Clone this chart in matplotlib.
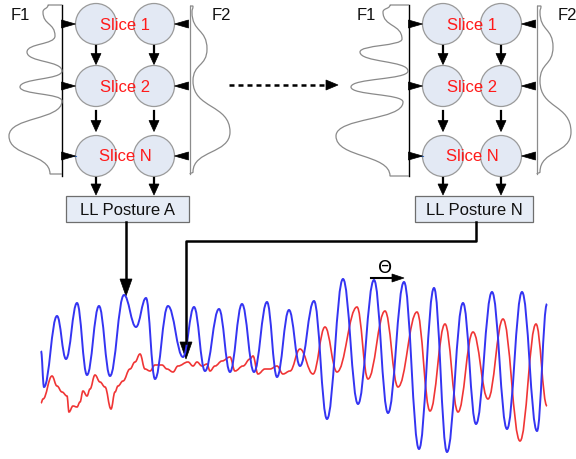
import matplotlib
matplotlib.use('Agg')
import matplotlib.pyplot as plt
from matplotlib.path import Path
from matplotlib.patches import PathPatch, Circle, Polygon, Rectangle

# --- diagram layout (pixel coords, y down) ---
line_left = [62, 409]
line_right = [190, 537]
col1_x = [96, 443]
col2_x = [154, 501]
row_y = [25, 87, 157]
slice_labels = ['Slice 1', 'Slice 2', 'Slice N']
box_x = [66, 415]
box_w = [123, 118]
box_labels = ['LL Posture A', 'LL Posture N']
f1_pos = [(20, 16), (366, 16)]
f2_pos = [(221, 16), (567, 16)]

# F1 / F2 distribution curves (turning points)
f1_curves = [
    ([62, 48, 43, 55, 27, 62, 20, 62, 9, 50, 62],
     [6, 6, 13, 37, 53, 72, 88, 102, 137, 175, 175]),
    ([409, 390, 383, 402, 360, 408, 351, 403, 336, 390, 409],
     [6, 6, 13, 40, 53, 72, 88, 103, 137, 177, 177]),
]
f2_curves = [
    ([190, 193, 192, 207, 193, 230, 193, 190],
     [7, 7, 13, 50, 82, 133, 173, 175]),
    ([537, 541, 540, 553, 540, 571, 540, 537],
     [7, 7, 13, 48, 82, 133, 173, 175]),
]

# --- signals (turning points) ---
blue_x = [41, 44, 57, 66, 77, 87, 99, 110, 124, 136, 146, 155, 168, 183, 194, 205,
          219, 230, 242, 254, 267, 277, 289, 300, 314, 327, 343, 358, 374, 388,
          404, 419, 434, 447, 463, 476, 492, 507, 522, 537, 547]
blue_y = [352, 388, 317, 360, 304, 376, 307, 377, 296, 328, 299, 380, 307, 358, 308, 372,
          310, 373, 305, 373, 303, 378, 311, 367, 302, 420, 280, 405, 281, 414,
          283, 450, 289, 453, 304, 425, 293, 430, 293, 432, 305]

red_x = [41, 43, 52, 57, 62, 67, 69, 73, 77, 80, 83, 87, 90, 95, 100, 105, 111, 115, 118,
         123, 130, 135, 140, 145, 150, 155, 162, 167, 173, 178, 188, 193, 197, 202, 207,
         210, 215, 222, 230, 235, 243, 250, 253, 258, 265, 270, 277, 283, 290, 300,
         313, 325, 337, 357, 368, 385, 398, 417, 430, 445, 458, 473, 488, 503, 520,
         536, 547]
red_y = [404, 400, 377, 387, 393, 397, 413, 407, 408, 403, 392, 397, 390, 376, 383, 388,
         410, 393, 387, 382, 370, 363, 355, 370, 372, 366, 366, 370, 373, 367, 363, 367,
         363, 367, 365, 372, 367, 362, 358, 372, 367, 360, 357, 375, 370, 370, 367,
         375, 372, 350, 375, 328, 373, 308, 380, 312, 388, 313, 412, 325, 413, 333,
         400, 320, 442, 325, 407]


def smooth_path(xs, ys, vertical=False, k=0.4):
    verts = [(xs[0], ys[0])]
    codes = [Path.MOVETO]
    for x0, y0, x1, y1 in zip(xs[:-1], ys[:-1], xs[1:], ys[1:]):
        if vertical:
            d = (y1 - y0) * k
            verts += [(x0, y0 + d), (x1, y1 - d), (x1, y1)]
        else:
            d = (x1 - x0) * k
            verts += [(x0 + d, y0), (x1 - d, y1), (x1, y1)]
        codes += [Path.CURVE4] * 3
    return Path(verts, codes)


def head(ax, tx, ty, direction, length, width, color='black'):
    if direction == 'down':
        pts = [(tx, ty), (tx - width / 2, ty - length), (tx + width / 2, ty - length)]
    elif direction == 'right':
        pts = [(tx, ty), (tx - length, ty - width / 2), (tx - length, ty + width / 2)]
    else:
        pts = [(tx, ty), (tx + length, ty - width / 2), (tx + length, ty + width / 2)]
    ax.add_patch(Polygon(pts, closed=True, facecolor=color, edgecolor=color, lw=0.5, zorder=5))


fig = plt.figure(figsize=(5.76, 4.60), dpi=100)
ax = fig.add_axes([0, 0, 1, 1])
ax.set_xlim(0, 576)
ax.set_ylim(460, 0)
ax.axis('off')

font = 'Liberation Sans'

for g in range(2):
    # vertical lines
    ax.plot([line_left[g], line_left[g]], [6, 177], color='black', lw=1.0, zorder=2)
    ax.plot([line_right[g], line_right[g]], [7, 175], color='#8c8c8c', lw=0.9, zorder=2)
    # distribution curves
    fx, fy = f1_curves[g]
    ax.add_patch(PathPatch(smooth_path(fx, fy, vertical=True, k=0.55), fill=False,
                           edgecolor='#8a8a8a', lw=0.9, zorder=2))
    fx, fy = f2_curves[g]
    ax.add_patch(PathPatch(smooth_path(fx, fy, vertical=True, k=0.55), fill=False,
                           edgecolor='#8a8a8a', lw=0.9, zorder=2))
    ax.text(*f1_pos[g], 'F1', fontsize=12, family=font, ha='center', va='center', color='#111111')
    ax.text(*f2_pos[g], 'F2', fontsize=12, family=font, ha='center', va='center', color='#111111')

    r = 20.5
    for i, y in enumerate(row_y):
        for cx in (col1_x[g], col2_x[g]):
            ax.add_patch(Circle((cx, y), r, facecolor='#e3e9f4', edgecolor='#9a9a9a',
                                lw=0.9, zorder=3))
        # side triangles
        head(ax, col1_x[g] - r, y, 'right', 14, 8)
        head(ax, col2_x[g] + r, y, 'left', 14, 8)
        ax.text((col1_x[g] + col2_x[g]) / 2, y, slice_labels[i], color='#ff1a1a',
                fontsize=12, family=font, ha='center', va='center', zorder=6)
    ax.plot([line_left[g], col1_x[g] - r], [row_y[2], row_y[2]], color='#3a6fc0', lw=0.8, zorder=4)

    # down arrows between rows and to the box
    for cx in (col1_x[g], col2_x[g]):
        for y0, y1 in [(row_y[0] + r + 1, row_y[1] - r - 1),
                       (row_y[1] + r + 4, row_y[2] - r - 4),
                       (row_y[2] + r + 1, 196)]:
            ax.plot([cx, cx], [y0, y1 - 9], color='black', lw=1.6, zorder=4)
            head(ax, cx, y1, 'down', 11, 10)

    # posture box
    ax.add_patch(Rectangle((box_x[g], 197), box_w[g], 26, facecolor='#e6ecf6',
                           edgecolor='#6e6e6e', lw=0.9, zorder=3))
    ax.text(box_x[g] + box_w[g] / 2, 210.5, box_labels[g], fontsize=12, family=font,
            ha='center', va='center', color='#111111', zorder=6)

# dashed arrow between the two groups
ax.plot([229, 326], [86, 86], color='black', lw=1.8, linestyle=(0, (2, 1.6)), zorder=4)
head(ax, 338, 86, 'right', 12, 10)

# connectors to the signal
ax.plot([126, 126], [223, 280], color='black', lw=1.8, zorder=6)
head(ax, 126, 297, 'down', 17, 12)
ax.plot([476, 476, 186, 186], [223, 242, 242, 344], color='black', lw=1.8, zorder=6)
head(ax, 186, 360, 'down', 17, 12)

# signals
ax.add_patch(PathPatch(smooth_path(red_x, red_y), fill=False, edgecolor='#f03535',
                       lw=1.2, zorder=4))
ax.add_patch(PathPatch(smooth_path(blue_x, blue_y), fill=False, edgecolor='#3434f2',
                       lw=1.4, zorder=5))

# phase shift marker
ax.plot([371, 393], [279, 279], color='black', lw=1.5, zorder=6)
head(ax, 404, 279, 'right', 12, 8)
ax.text(385, 268, 'Θ', fontsize=13, family='DejaVu Sans', ha='center', va='center', zorder=6)

fig.savefig('out.png', dpi=100)
